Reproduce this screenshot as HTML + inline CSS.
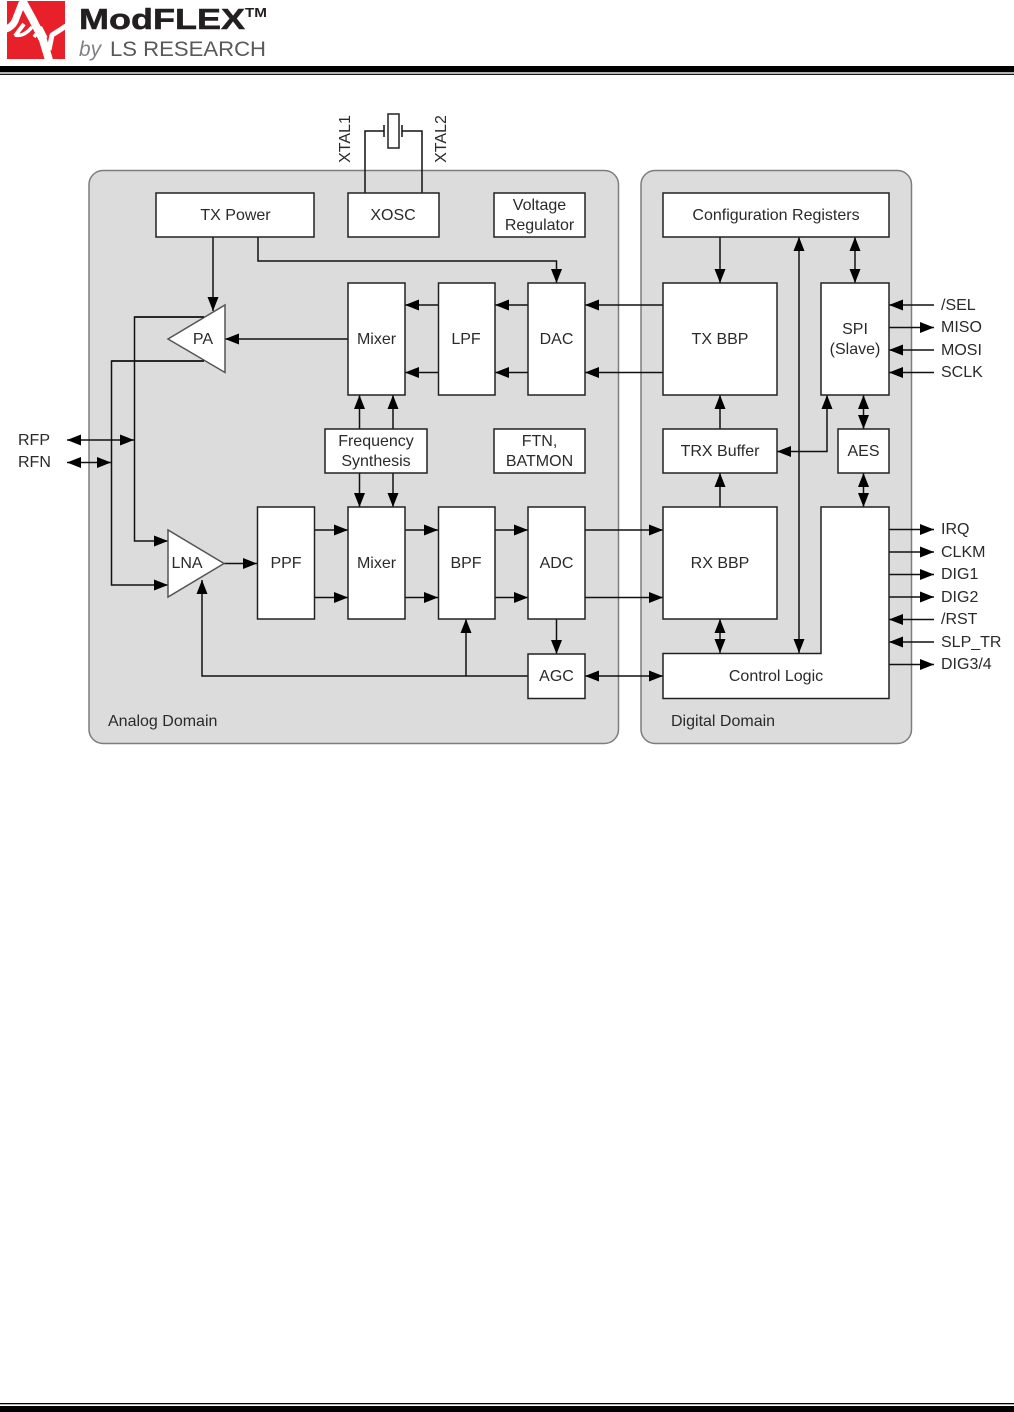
<!DOCTYPE html>
<html><head><meta charset="utf-8"><style>
html,body{margin:0;padding:0;background:#fff}
svg{display:block}
text{font-family:"Liberation Sans",Arial,sans-serif;font-size:16px;fill:#2a2a2a}
.b{fill:#fff;stroke:#222;stroke-width:1.5}
.l{fill:none;stroke:#111;stroke-width:1.5}
.a{marker-end:url(#m)}
.d{marker-end:url(#m);marker-start:url(#m)}
.c{text-anchor:middle}
</style></head><body>
<svg width="1014" height="1412" viewBox="0 0 1014 1412" xmlns="http://www.w3.org/2000/svg">
<defs><marker id="m" markerUnits="userSpaceOnUse" markerWidth="14" markerHeight="11" refX="14" refY="5.500" orient="auto-start-reverse"><path d="M0,0L14,5.500L0,11z" fill="#000"/></marker></defs>

<!-- header -->
<rect x="7" y="1" width="58" height="58" fill="#e8202a"/>
<g fill="none" stroke="#fff" stroke-linecap="butt" stroke-linejoin="round">
<path stroke-width="7" d="M6,29Q12,27 15,21L22,3"/>
<path stroke-width="8" d="M22,0L33,20L43,40L49,60"/>
<path stroke-width="4" d="M15,36L24,24"/>
<path stroke-width="3.500" d="M15,35Q24,37 32,27"/>
<path stroke-width="3.500" d="M34,37L41,28L46,38"/>
<path stroke-width="5" d="M49,50L52,35Q57,32 66,26"/>
</g>
<text x="79" y="29" textLength="166" lengthAdjust="spacingAndGlyphs" style="font-size:29px;font-weight:bold;fill:#231f20;stroke:#231f20;stroke-width:.5">ModFLEX</text>
<text x="245" y="17" textLength="22" lengthAdjust="spacingAndGlyphs" style="font-size:13px;font-weight:bold;fill:#231f20">TM</text>
<text x="79" y="56" textLength="22" lengthAdjust="spacingAndGlyphs" style="font-size:21px;font-style:italic;fill:#808285">by</text>
<text x="110" y="56" textLength="156" lengthAdjust="spacingAndGlyphs" style="font-size:21.500px;fill:#58595b">LS RESEARCH</text>
<rect x="0" y="66" width="1014" height="6.300" fill="#000"/>
<rect x="0" y="73.700" width="1014" height="1.200" fill="#000"/>
<rect x="0" y="1403" width="1014" height="1.300" fill="#000"/>
<rect x="0" y="1406" width="1014" height="6" fill="#000"/>

<!-- domains -->
<rect x="89" y="170.500" width="529.500" height="573" rx="14" fill="#dcdcdc" stroke="#7d7d7d" stroke-width="1.500"/>
<rect x="641" y="170.500" width="270.500" height="573" rx="14" fill="#dcdcdc" stroke="#7d7d7d" stroke-width="1.500"/>

<!-- crystal -->
<path class="l" d="M365,193V131H384M384,125V137M402,125V137M402,131H422V193"/>
<rect x="388" y="114" width="11" height="34" class="b"/>

<!-- connectors -->
<path class="l a" d="M213,237V311"/>
<path class="l a" d="M258,237V261H556.500V283"/>
<path class="l a" d="M204,317H134.500V541H168"/>
<path class="l a" d="M204,361H111.500V585H168"/>
<path class="l d" d="M67,440H134"/>
<path class="l d" d="M67,462.500H111"/>
<path class="l a" d="M224,563.500H257"/>
<path class="l a" d="M528,676H202V580"/>
<path class="l a" d="M466,676V619"/>
<path class="l a" d="M556.500,619V654"/>
<path class="l d" d="M585,676H663"/>
<path class="l a" d="M314,530H348"/><path class="l a" d="M314,597.500H348"/>
<path class="l a" d="M405,530H438"/><path class="l a" d="M405,597.500H438"/>
<path class="l a" d="M495,530H528"/><path class="l a" d="M495,597.500H528"/>
<path class="l a" d="M585,530H663"/><path class="l a" d="M585,597.500H663"/>
<path class="l a" d="M663,305H585"/><path class="l a" d="M663,372.500H585"/>
<path class="l a" d="M528,305H495"/><path class="l a" d="M528,372.500H495"/>
<path class="l a" d="M438,305H405"/><path class="l a" d="M438,372.500H405"/>
<path class="l a" d="M348,339H225"/>
<path class="l a" d="M359.500,429V395"/><path class="l a" d="M393,429V395"/>
<path class="l a" d="M359.500,473V507"/><path class="l a" d="M393,473V507"/>
<path class="l a" d="M720,237V283"/>
<path class="l a" d="M720,429V395"/>
<path class="l a" d="M720,507V473"/>
<path class="l d" d="M720,619V653"/>
<path class="l d" d="M799,237V653"/>
<path class="l d" d="M855,237V283"/>
<path class="l d" d="M777,451.500H827V395"/>
<path class="l d" d="M863.500,395V429"/>
<path class="l d" d="M863.500,473V507"/>
<path class="l a" d="M934,305H889"/>
<path class="l a" d="M889,327.500H934"/>
<path class="l a" d="M934,350H889"/>
<path class="l a" d="M934,372.500H889"/>
<path class="l a" d="M889,529.500H934"/>
<path class="l a" d="M889,552H934"/>
<path class="l a" d="M889,574.500H934"/>
<path class="l a" d="M889,597H934"/>
<path class="l a" d="M934,619.500H889"/>
<path class="l a" d="M934,642H889"/>
<path class="l a" d="M889,664.500H934"/>

<!-- boxes -->
<rect class="b" x="156" y="193" width="158" height="44"/>
<rect class="b" x="348" y="193" width="91" height="44"/>
<rect class="b" x="494" y="193" width="91" height="44"/>
<rect class="b" x="663" y="193" width="226" height="44"/>
<rect class="b" x="348" y="283" width="57" height="112"/>
<rect class="b" x="438.500" y="283" width="56.500" height="112"/>
<rect class="b" x="528" y="283" width="57" height="112"/>
<rect class="b" x="663" y="283" width="114" height="112"/>
<rect class="b" x="821" y="283" width="68" height="112"/>
<rect class="b" x="325" y="429" width="102" height="44"/>
<rect class="b" x="494" y="429" width="91" height="44"/>
<rect class="b" x="663" y="429" width="114" height="44"/>
<rect class="b" x="838" y="429" width="51" height="44"/>
<rect class="b" x="257.500" y="507" width="57" height="112"/>
<rect class="b" x="348" y="507" width="57" height="112"/>
<rect class="b" x="438.500" y="507" width="56.500" height="112"/>
<rect class="b" x="528" y="507" width="57" height="112"/>
<rect class="b" x="663" y="507" width="114" height="112"/>
<rect class="b" x="528" y="654" width="57" height="44.500"/>
<path class="b" d="M663,653.500H821V507H889V698.500H663z"/>
<path d="M168,339L225,305V372.500z" fill="#fff" stroke="#555" stroke-width="1.500"/>
<path d="M168,530V597L224,563.500z" fill="#fff" stroke="#555" stroke-width="1.500"/>
<path class="l" d="M134.500,317H204M111.500,361H204"/>

<!-- labels -->
<text class="c" x="235.500" y="220">TX Power</text>
<text class="c" x="393" y="220">XOSC</text>
<text class="c" x="539.500" y="210">Voltage</text>
<text class="c" x="539.500" y="230">Regulator</text>
<text class="c" x="776" y="220">Configuration Registers</text>
<text class="c" x="376.500" y="344">Mixer</text>
<text class="c" x="466" y="344">LPF</text>
<text class="c" x="556.500" y="344">DAC</text>
<text class="c" x="720" y="344">TX BBP</text>
<text class="c" x="855" y="334">SPI</text>
<text class="c" x="855" y="354">(Slave)</text>
<text class="c" x="203" y="344">PA</text>
<text class="c" x="376" y="446">Frequency</text>
<text class="c" x="376" y="466">Synthesis</text>
<text class="c" x="539.500" y="446">FTN,</text>
<text class="c" x="539.500" y="466">BATMON</text>
<text class="c" x="720" y="456">TRX Buffer</text>
<text class="c" x="863.500" y="456">AES</text>
<text class="c" x="187" y="568">LNA</text>
<text class="c" x="286" y="568">PPF</text>
<text class="c" x="376.500" y="568">Mixer</text>
<text class="c" x="466" y="568">BPF</text>
<text class="c" x="556.500" y="568">ADC</text>
<text class="c" x="720" y="568">RX BBP</text>
<text class="c" x="556.500" y="681">AGC</text>
<text class="c" x="776" y="681">Control Logic</text>
<text x="108" y="726">Analog Domain</text>
<text x="671" y="726">Digital Domain</text>
<text x="18" y="445">RFP</text>
<text x="18" y="467">RFN</text>
<text x="941" y="310">/SEL</text>
<text x="941" y="332">MISO</text>
<text x="941" y="355">MOSI</text>
<text x="941" y="377">SCLK</text>
<text x="941" y="534">IRQ</text>
<text x="941" y="557">CLKM</text>
<text x="941" y="579">DIG1</text>
<text x="941" y="602">DIG2</text>
<text x="941" y="624">/RST</text>
<text x="941" y="647">SLP_TR</text>
<text x="941" y="669">DIG3/4</text>
<text class="c" transform="translate(350,139) rotate(-90)">XTAL1</text>
<text class="c" transform="translate(446,139) rotate(-90)">XTAL2</text>
</svg>
</body></html>
